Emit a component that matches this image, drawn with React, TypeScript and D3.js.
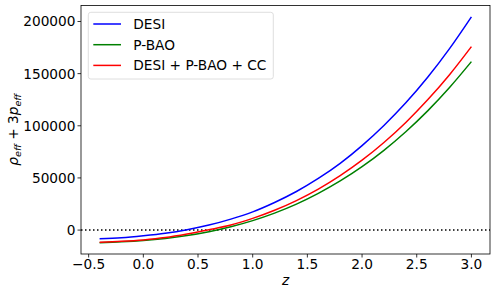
import React from 'react';
import * as d3 from 'd3';

// effective rho + 3p vs redshift, three data combos

const zValues = [-0.4, -0.2, 0, 0.2, 0.4, 0.6, 0.8, 1.0, 1.2, 1.4, 1.6, 1.8, 2.0, 2.2, 2.4, 2.6, 2.8, 3.0];
const desi = [-8300, -7300, -5400, -3000, 400, 4800, 10500, 17500, 26500, 37000, 49500, 64000, 81000, 100300, 122000, 146500, 174000, 204500];
const pbao = [-12100, -11300, -10000, -8000, -5200, -1500, 3200, 9100, 16300, 24900, 35200, 47100, 60800, 76500, 94300, 114300, 136700, 161500];
const combined = [-11700, -10800, -9400, -7200, -3800, 300, 4800, 11200, 19000, 28300, 39300, 52200, 67000, 84000, 103200, 124900, 149000, 175900];

const seriesNames = ['DESI', 'P-BAO', 'DESI + P-BAO + CC'];
const seriesColors = ['#0000ff', '#008000', '#ff0000'];
const xTicks = [-0.5, 0.0, 0.5, 1.0, 1.5, 2.0, 2.5, 3.0];
const yTicks = [0, 50000, 100000, 150000, 200000];

const W = 495;
const H = 295;
const margin = { top: 5.5, right: 5, bottom: 41, left: 81 };
const font = 'DejaVu Sans, sans-serif';
const fs = 13.7;

const pad = (lo: number, hi: number) => {
  const d = (hi - lo) * 0.05;
  return [lo - d, hi + d];
};

const App = () => {
  const allSeries = [desi, pbao, combined];
  const xExt = d3.extent(zValues) as [number, number];
  const yMin = d3.min(allSeries, s => d3.min(s)) as number;
  const yMax = d3.max(allSeries, s => d3.max(s)) as number;

  const x = d3.scaleLinear().domain(pad(xExt[0], xExt[1])).range([margin.left, W - margin.right]);
  const y = d3.scaleLinear().domain(pad(yMin, yMax)).range([H - margin.bottom, margin.top]);

  const line = d3
    .line<number>()
    .x((_, i) => x(zValues[i]))
    .y(d => y(d))
    .curve(d3.curveMonotoneX);

  const x0 = margin.left;
  const x1 = W - margin.right;
  const y0 = margin.top;
  const y1 = H - margin.bottom;

  return (
    <svg width={W} height={H} style={{ position: 'absolute', left: 0, top: 0 }} fontFamily={font}>
      <rect x={0} y={0} width={W} height={H} fill="#fff" />
      <defs>
        <clipPath id="plot">
          <rect x={x0} y={y0} width={x1 - x0} height={y1 - y0} />
        </clipPath>
      </defs>

      {/* zero reference */}
      <line x1={x0} x2={x1} y1={y(0)} y2={y(0)} stroke="#000" strokeWidth={1.5} strokeDasharray="1.5,2.5" />

      <g clipPath="url(#plot)">
        {allSeries.map((s, i) => (
          <path key={seriesNames[i]} d={line(s) ?? ''} fill="none" stroke={seriesColors[i]} strokeWidth={1.5} />
        ))}
      </g>

      {/* frame */}
      <rect x={x0} y={y0} width={x1 - x0} height={y1 - y0} fill="none" stroke="#000" strokeWidth={0.8} />

      {/* x axis */}
      {xTicks.map(t => (
        <g key={t} transform={`translate(${x(t)},${y1})`}>
          <line y1={0} y2={3.5} stroke="#000" strokeWidth={0.8} />
          <text y={15.3} textAnchor="middle" fontSize={fs} fill="#000">
            {t < 0 ? '\u2212' + Math.abs(t).toFixed(1) : t.toFixed(1)}
          </text>
        </g>
      ))}
      <text x={(x0 + x1) / 2} y={285} textAnchor="middle" fontSize={fs} fontStyle="italic" fill="#000">
        z
      </text>

      {/* y axis */}
      {yTicks.map(t => (
        <g key={t} transform={`translate(${x0},${y(t)})`}>
          <line x1={0} x2={-3.5} stroke="#000" strokeWidth={0.8} />
          <text x={-5.5} dy="0.36em" textAnchor="end" fontSize={fs} fill="#000">
            {t}
          </text>
        </g>
      ))}
      <text
        transform={`translate(18,${(y0 + y1) / 2}) rotate(-90)`}
        textAnchor="middle"
        fontSize={fs}
        fill="#000"
      >
        <tspan fontStyle="italic">ρ</tspan>
        <tspan fontStyle="italic" fontSize={fs * 0.7} dy={3}>eff</tspan>
        <tspan dy={-3}> + 3</tspan>
        <tspan fontStyle="italic">p</tspan>
        <tspan fontStyle="italic" fontSize={fs * 0.7} dy={3}>eff</tspan>
      </text>

      {/* legend */}
      <g>
        <rect x={88.3} y={12.3} width={185} height={66.7} rx={2.5} fill="#fff" fillOpacity={0.8} stroke="#d6d6d6" strokeWidth={0.8} />
        {seriesNames.map((n, i) => (
          <g key={n} transform={`translate(93.3,${24 + i * 20.7})`}>
            <line x1={0} x2={27.7} stroke={seriesColors[i]} strokeWidth={1.5} />
            <text x={40} dy="0.36em" fontSize={fs} fill="#000">
              {n}
            </text>
          </g>
        ))}
      </g>
    </svg>
  );
};

export default App;
